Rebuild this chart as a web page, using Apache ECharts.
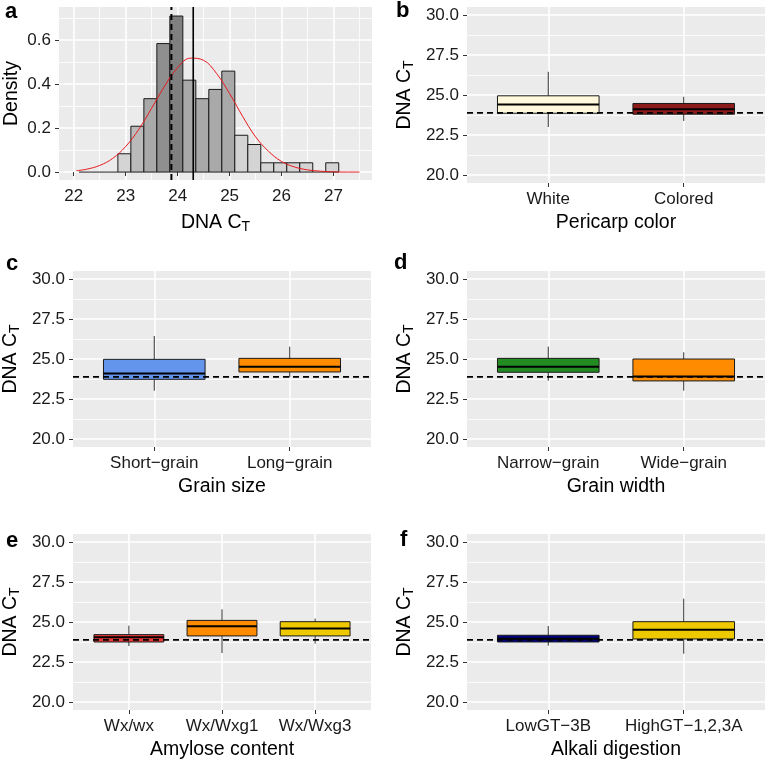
<!DOCTYPE html>
<html><head><meta charset="utf-8">
<script src="https://cdn.jsdelivr.net/npm/echarts@6/dist/echarts.min.js"></script>
<style>html,body{margin:0;padding:0;background:#fff}#c{width:765px;height:762px}</style>
</head><body><div id="c"></div>
<script>
// ---------- Panel a: histogram of DNA CT ----------
const histEdges = [22.1,22.35,22.6,22.85,23.1,23.35,23.6,23.85,24.1,24.35,24.6,24.85,25.1,25.35,25.6,25.85,26.1,26.35,26.6,26.85,27.1];
const histDensity = [0,0,0,0.083,0.208,0.333,0.583,0.708,0.417,0.333,0.375,0.458,0.167,0.125,0.042,0.042,0.042,0.042,0,0.042];
const curveX = [22.05,22.25,22.5,22.75,23,23.25,23.5,23.75,24,24.25,24.5,24.75,25,25.25,25.5,25.75,26,26.25,26.5,26.75,27,27.25,27.5];
const curveY = [0.006,0.013,0.03,0.062,0.116,0.193,0.29,0.39,0.474,0.517,0.507,0.447,0.356,0.253,0.16,0.094,0.048,0.023,0.01,0.004,0.001,0,0];
const meanCT = 24.3;
const medianCT = 23.88;
const histXTicks = [22,23,24,25,26,27];
const histXMinor = [22.5,23.5,24.5,25.5,26.5,27.5];
const histYTicks = [0,0.2,0.4,0.6];
const histYMinor = [0.1,0.3,0.5,0.7];

// ---------- Box panels (whisker low, Q1, median, Q3, whisker high) ----------
const ctTicks = [20,22.5,25,27.5,30];
const ctMinor = [21.25,23.75,26.25,28.75];
const refLine = 23.88;

const bCats = ['White','Colored'];
const bStats = [[23.0,23.86,24.40,24.95,26.45],[23.38,23.80,24.11,24.47,24.89]];
const cCats = ['Short\u2212grain','Long\u2212grain'];
const cStats = [[23.02,23.73,24.10,24.98,26.44],[23.85,24.19,24.52,25.04,25.77]];
const dCats = ['Narrow\u2212grain','Wide\u2212grain'];
const dStats = [[23.65,24.17,24.52,25.04,25.77],[23.02,23.63,23.90,25.0,25.42]];
const eCats = ['Wx/wx','Wx/Wxg1','Wx/Wxg3'];
const eStats = [[23.5,23.75,24.04,24.21,24.77],[23.06,24.13,24.73,25.10,25.79],[23.65,24.13,24.60,25.02,25.21]];
const fCats = ['LowGT\u22123B','HighGT\u22121,2,3A'];
const fStats = [[23.52,23.75,23.95,24.17,24.75],[23.02,23.94,24.52,25.02,26.46]];

// ---------- styles ----------
const histFill = ['#d4d4d4','#d4d4d4','#d4d4d4','#d4d4d4','#bababa','#a9a9a9','#8f8f8f','#808080','#a9a9a9','#a9a9a9','#a9a9a9','#a9a9a9','#d4d4d4','#d4d4d4','#d4d4d4','#d4d4d4','#d4d4d4','#d4d4d4','#d4d4d4','#d4d4d4'];
const bColors = ['#FFF8DC','#8B1A1A'];
const cColors = ['#6495ED','#FF8C00'];
const dColors = ['#228B22','#FF8C00'];
const eColors = ['#EE3B3B','#FF8C00','#EEC900'];
const fColors = ['#000080','#EEC900'];

const FONT = "'Liberation Sans', Arial, Helvetica, sans-serif";
const TICK_FS = 17, TITLE_FS = 19.5;
const grids = [], xAxes = [], yAxes = [], series = [];
const ctName = '{m|DNA C}{s|T}';
const ctRich = {m:{fontSize:TITLE_FS, fontFamily:FONT, color:'#000', lineHeight:26, verticalAlign:'middle'},
                s:{fontSize:14, fontFamily:FONT, color:'#000', lineHeight:26, verticalAlign:'bottom', padding:[0,0,2,0]}};

function addGrid(l,t,w,h){
  grids.push({left:l, top:t, width:w, height:h, show:true, backgroundColor:'#EBEBEB', borderWidth:0, containLabel:false});
  return grids.length-1;
}
function mainAxis(gi, min, max, ticks, fmt, name, nameGap, rich, margin){
  return {type:'value', gridIndex:gi, min:min, max:max,
    axisLine:{show:false},
    axisTick:{show:true, length:4, lineStyle:{color:'#333', width:1}, customValues:ticks},
    axisLabel:{customValues:ticks, formatter:fmt, color:'#1a1a1a', fontSize:TICK_FS, fontFamily:FONT, margin:margin},
    splitLine:{show:true, lineStyle:{color:'#ffffff', width:1.6}},
    name:name, nameLocation:'middle', nameGap:nameGap,
    nameTextStyle: rich ? {rich:rich} : {fontSize:TITLE_FS, fontFamily:FONT, color:'#000'}};
}
function minorAxis(gi, min, max, vals){
  return {type:'value', gridIndex:gi, min:min, max:max,
    axisLine:{show:false}, axisTick:{show:false, customValues:vals},
    axisLabel:{show:false, customValues:vals},
    splitLine:{show:true, lineStyle:{color:'#ffffff', width:0.8}}};
}

// ---------- Panel a ----------
(function(){
  const gi = addGrid(59, 7, 313, 173);
  const xMin = 21.717, xMax = 27.74, yMin = -0.036, yMax = 0.749;
  const xi = xAxes.length, yi = yAxes.length;
  xAxes.push(mainAxis(gi, xMin, xMax, histXTicks, v => String(v), ctName, 30, ctRich, 8));
  yAxes.push(mainAxis(gi, yMin, yMax, histYTicks, v => v.toFixed(1), 'Density', 37, null, 8));
  xAxes.push(minorAxis(gi, xMin, xMax, histXMinor));
  yAxes.push(minorAxis(gi, yMin, yMax, histYMinor));
  const bins = histDensity.map((d,i) => [histEdges[i], histEdges[i+1], d]);
  series.push({type:'custom', xAxisIndex:xi, yAxisIndex:yi, z:3, data:bins,
    encode:{x:[0,1], y:2},
    renderItem:(params, api) => {
      const p0 = api.coord([api.value(0), api.value(2)]);
      const p1 = api.coord([api.value(1), 0]);
      if (api.value(2) === 0) {
        return {type:'line', shape:{x1:p0[0], y1:p1[1], x2:p1[0], y2:p1[1]}, style:{stroke:'#1a1a1a', lineWidth:1}};
      }
      return {type:'rect', shape:{x:p0[0], y:p0[1], width:p1[0]-p0[0], height:p1[1]-p0[1]},
        style:{fill:histFill[params.dataIndex], stroke:'#1a1a1a', lineWidth:1}};
    }});
  series.push({type:'line', xAxisIndex:xi, yAxisIndex:yi, z:4, data:curveX.map((x,i)=>[x,curveY[i]]),
    smooth:0.4, symbol:'none', lineStyle:{color:'#E8191E', width:1}, silent:true});
  series.push({type:'line', xAxisIndex:xi, yAxisIndex:yi, z:5, data:[[medianCT,yMin],[medianCT,yMax]],
    symbol:'none', lineStyle:{color:'#000', width:2, type:[6,4]}, silent:true});
  series.push({type:'line', xAxisIndex:xi, yAxisIndex:yi, z:5, data:[[meanCT,yMin],[meanCT,yMax]],
    symbol:'none', lineStyle:{color:'#000', width:1.6}, silent:true});
})();

// ---------- Box panels ----------
function boxPanel(l, t, w, h, cats, stats, colors, title){
  const gi = addGrid(l, t, w, h);
  const xMin = 0.4, xMax = cats.length + 0.6, yMin = 19.5, yMax = 30.5;
  const xi = xAxes.length, yi = yAxes.length;
  const xt = cats.map((c,i)=>i+1);
  xAxes.push(mainAxis(gi, xMin, xMax, xt, v => cats[Math.round(v)-1], title, 30, null, 8));
  yAxes.push(mainAxis(gi, yMin, yMax, ctTicks, v => v.toFixed(1), ctName, 49, ctRich, 8));
  yAxes.push(minorAxis(gi, yMin, yMax, ctMinor));
  series.push({type:'custom', xAxisIndex:xi, yAxisIndex:yi, z:3,
    data: stats.map((s,i)=>[i+1].concat(s)),
    encode:{x:0, y:[1,2,3,4,5]},
    renderItem:(params, api) => {
      const x = api.value(0);
      const lo = api.value(1), q1 = api.value(2), med = api.value(3), q3 = api.value(4), hi = api.value(5);
      const hw = 0.375;
      const tl = api.coord([x-hw, q3]), br = api.coord([x+hw, q1]);
      const ph = api.coord([x, hi]), p3 = api.coord([x, q3]), p1 = api.coord([x, q1]), pl = api.coord([x, lo]);
      const ml = api.coord([x-hw, med]), mr = api.coord([x+hw, med]);
      return {type:'group', children:[
        {type:'line', shape:{x1:ph[0], y1:ph[1], x2:p3[0], y2:p3[1]}, style:{stroke:'#333', lineWidth:1}},
        {type:'line', shape:{x1:p1[0], y1:p1[1], x2:pl[0], y2:pl[1]}, style:{stroke:'#333', lineWidth:1}},
        {type:'rect', shape:{x:tl[0], y:tl[1], width:br[0]-tl[0], height:br[1]-tl[1]},
          style:{fill:colors[params.dataIndex], stroke:'#1a1a1a', lineWidth:1}},
        {type:'line', shape:{x1:ml[0], y1:ml[1], x2:mr[0], y2:mr[1]}, style:{stroke:'#000', lineWidth:2}}
      ]};
    }});
  series.push({type:'line', xAxisIndex:xi, yAxisIndex:yi, z:5, data:[[xMin,refLine],[xMax,refLine]],
    symbol:'none', lineStyle:{color:'#000', width:1.8, type:[6,4]}, silent:true});
}
boxPanel(467, 7, 298, 176, bCats, bStats, bColors, 'Pericarp color');
boxPanel(73, 271, 298, 176, cCats, cStats, cColors, 'Grain size');
boxPanel(467, 271, 298, 176, dCats, dStats, dColors, 'Grain width');
boxPanel(73, 534, 298, 176, eCats, eStats, eColors, 'Amylose content');
boxPanel(467, 534, 298, 176, fCats, fStats, fColors, 'Alkali digestion');

const letters = [['a',5,1],['b',396,0],['c',6,253],['d',394,252],['e',6,530],['f',400,529]];
const chart = echarts.init(document.getElementById('c'), null, {renderer:'canvas'});
chart.setOption({
  animation:false,
  backgroundColor:'#ffffff',
  grid:grids, xAxis:xAxes, yAxis:yAxes, series:series,
  graphic: letters.map(L => ({type:'text', left:L[1], top:L[2],
    style:{text:L[0], font:'bold 22px ' + FONT, fill:'#000'}}))
});
</script></body></html>
